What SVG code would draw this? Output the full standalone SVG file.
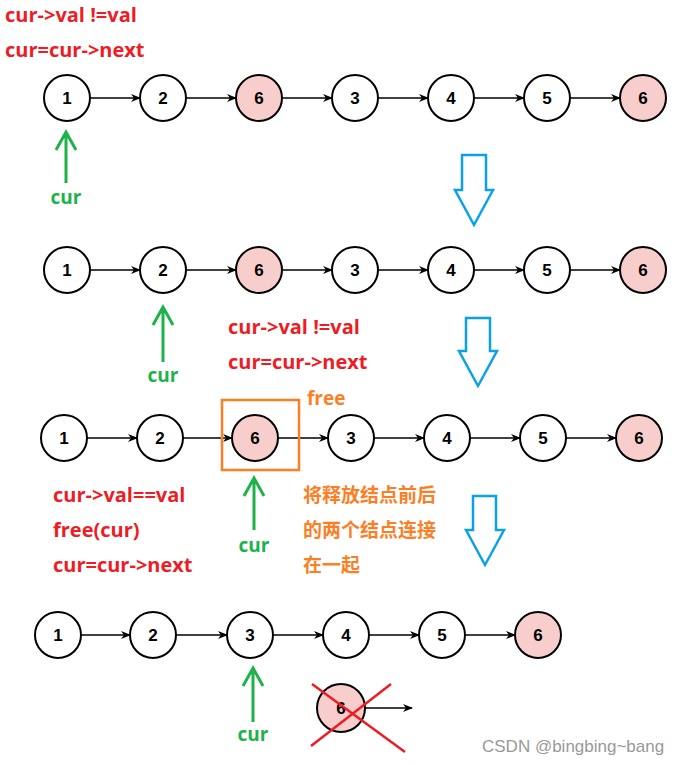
<svg xmlns="http://www.w3.org/2000/svg" width="689" height="765" viewBox="0 0 689 765">
<style>
.n circle{fill:#fff;stroke:#000;stroke-width:2}
.n.p circle{fill:#f8cecc}
.n text{font:bold 17px "Liberation Sans",Arial,sans-serif;text-anchor:middle;fill:#000}
.e{stroke:#000;stroke-width:1.5;fill:none;marker-end:url(#ah)}
.g{stroke:#1db34a;stroke-width:3;fill:none}
.gt{font:bold 19px "Open Sans","Liberation Sans",sans-serif;fill:#1db34a;text-anchor:middle}
.r{font:bold 20px "Open Sans","Liberation Sans",sans-serif;fill:#ee1c25}
.o{font:bold 19px "Open Sans","Liberation Sans","Noto Sans CJK SC",sans-serif;fill:#fd7f25}
.b{fill:#fff;stroke:#0aa1e8;stroke-width:2.5}
</style>
<defs><marker id="ah" markerWidth="10" markerHeight="8" refX="9" refY="4" orient="auto" markerUnits="userSpaceOnUse"><path d="M0,0L10,4L0,8L3,4Z" fill="#000"/></marker></defs>
<rect width="689" height="765" fill="#fff"/>
<g id="connectors">
<path class="e" d="M90,98H140"/><path class="e" d="M186,98H236"/><path class="e" d="M282,98H332"/><path class="e" d="M378,98H428"/><path class="e" d="M474,98H524"/><path class="e" d="M570,98H620"/>
<path class="e" d="M90,270H140"/><path class="e" d="M186,270H236"/><path class="e" d="M282,270H332"/><path class="e" d="M378,270H428"/><path class="e" d="M474,270H524"/><path class="e" d="M570,270H620"/>
<path class="e" d="M87,438H137"/><path class="e" d="M183,438H232"/><path class="e" d="M278,438H328"/><path class="e" d="M374,438H424"/><path class="e" d="M470,438H520"/><path class="e" d="M566,438H616"/>
<path class="e" d="M81,635H130"/><path class="e" d="M176,635H227"/><path class="e" d="M273,635H323"/><path class="e" d="M369,635H419"/><path class="e" d="M465,635H515"/>
<path class="e" d="M365,708H412"/>
</g>
<g id="r1">
<g class="n" id="a1"><circle cx="67" cy="98" r="23"/><text x="67" y="104">1</text></g>
<g class="n" id="a2"><circle cx="163" cy="98" r="23"/><text x="163" y="104">2</text></g>
<g class="n p" id="a3"><circle cx="259" cy="98" r="23"/><text x="259" y="104">6</text></g>
<g class="n" id="a4"><circle cx="355" cy="98" r="23"/><text x="355" y="104">3</text></g>
<g class="n" id="a5"><circle cx="451" cy="98" r="23"/><text x="451" y="104">4</text></g>
<g class="n" id="a6"><circle cx="547" cy="98" r="23"/><text x="547" y="104">5</text></g>
<g class="n p" id="a7"><circle cx="643" cy="98" r="23"/><text x="643" y="104">6</text></g>
</g>
<g id="r2">
<g class="n" id="b1"><circle cx="67" cy="270" r="23"/><text x="67" y="276">1</text></g>
<g class="n" id="b2"><circle cx="163" cy="270" r="23"/><text x="163" y="276">2</text></g>
<g class="n p" id="b3"><circle cx="259" cy="270" r="23"/><text x="259" y="276">6</text></g>
<g class="n" id="b4"><circle cx="355" cy="270" r="23"/><text x="355" y="276">3</text></g>
<g class="n" id="b5"><circle cx="451" cy="270" r="23"/><text x="451" y="276">4</text></g>
<g class="n" id="b6"><circle cx="547" cy="270" r="23"/><text x="547" y="276">5</text></g>
<g class="n p" id="b7"><circle cx="643" cy="270" r="23"/><text x="643" y="276">6</text></g>
</g>
<g id="r3">
<g class="n" id="c1"><circle cx="64" cy="438" r="23"/><text x="64" y="444">1</text></g>
<g class="n" id="c2"><circle cx="160" cy="438" r="23"/><text x="160" y="444">2</text></g>
<g class="n p" id="c3"><circle cx="255" cy="438" r="23"/><text x="255" y="444">6</text></g>
<g class="n" id="c4"><circle cx="351" cy="438" r="23"/><text x="351" y="444">3</text></g>
<g class="n" id="c5"><circle cx="447" cy="438" r="23"/><text x="447" y="444">4</text></g>
<g class="n" id="c6"><circle cx="543" cy="438" r="23"/><text x="543" y="444">5</text></g>
<g class="n p" id="c7"><circle cx="639" cy="438" r="23"/><text x="639" y="444">6</text></g>
</g>
<g id="r4">
<g class="n" id="d1"><circle cx="58" cy="635" r="23"/><text x="58" y="641">1</text></g>
<g class="n" id="d2"><circle cx="153" cy="635" r="23"/><text x="153" y="641">2</text></g>
<g class="n" id="d3"><circle cx="250" cy="635" r="23"/><text x="250" y="641">3</text></g>
<g class="n" id="d4"><circle cx="346" cy="635" r="23"/><text x="346" y="641">4</text></g>
<g class="n" id="d5"><circle cx="442" cy="635" r="23"/><text x="442" y="641">5</text></g>
<g class="n p" id="d6"><circle cx="538" cy="635" r="23"/><text x="538" y="641">6</text></g>
<g class="n p" id="dx"><circle cx="341" cy="708" r="24"/><text x="341" y="714">6</text></g>
</g>
<path d="M312,684L405,752M391,684L311,746" stroke="#ee1c25" stroke-width="2.5"/>
<rect x="222" y="400" width="77" height="70" fill="none" stroke="#fd7f25" stroke-width="2.5"/>
<g id="pointers">
<path class="g" d="M66,183V132M56,150L66,132L76,150"/>
<path class="g" d="M163,362V307M153,325L163,307L173,325"/>
<path class="g" d="M254,530V478M244,496L254,478L264,496"/>
<path class="g" d="M253,722V668M243,686L253,668L263,686"/>
<text class="gt" x="66" y="204">cur</text>
<text class="gt" x="163" y="382">cur</text>
<text class="gt" x="254" y="552">cur</text>
<text class="gt" x="253" y="741">cur</text>
</g>
<g id="bigarrows">
<path class="b" d="M462,155H486V190H493L474,225L455,190H462Z"/>
<path class="b" d="M466,318H490V351H497L478,386L459,351H466Z"/>
<path class="b" d="M473,496H496V530H504L485,565L466,530H473Z"/>
</g>
<g id="labels">
<text class="r" x="5" y="22">cur-&gt;val !=val</text>
<text class="r" x="5" y="57">cur=cur-&gt;next</text>
<text class="r" x="228" y="334">cur-&gt;val !=val</text>
<text class="r" x="228" y="369">cur=cur-&gt;next</text>
<text class="r" x="53" y="502">cur-&gt;val==val</text>
<text class="r" x="53" y="537">free(cur)</text>
<text class="r" x="53" y="572">cur=cur-&gt;next</text>
<text class="o" x="307" y="405">free</text>
<text class="o" x="303" y="502">将释放结点前后</text>
<text class="o" x="303" y="537">的两个结点连接</text>
<text class="o" x="303" y="572">在一起</text>
<text x="482" y="752" style="font:17px 'Liberation Sans',sans-serif;fill:#999">CSDN @bingbing~bang</text>
</g>
</svg>
